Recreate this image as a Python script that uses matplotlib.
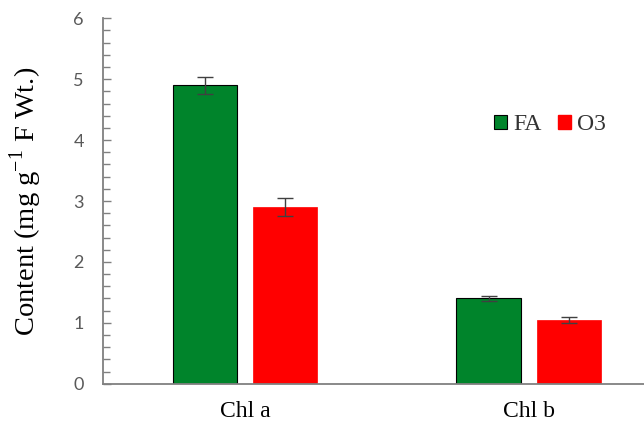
import matplotlib.pyplot as plt
import numpy as np
from matplotlib.patches import Patch

categories = ["Chl a", "Chl b"]
series_names = ["FA", "O3"]
fa_values = [4.90, 1.40]
o3_values = [2.90, 1.04]
fa_err = [0.14, 0.04]
o3_err = [0.145, 0.05]
y_ticks = [0, 1, 2, 3, 4, 5, 6]

green = "#00842B"
red = "#FF0000"

W, H = 644, 422
fig = plt.figure(figsize=(W / 100, H / 100), dpi=100)
left, right, top, bottom = 103.3, 670.3, 18.3, 383.7
ax = fig.add_axes([left / W, 1 - bottom / H, (right - left) / W, (bottom - top) / H])

x = np.arange(len(categories))
bw = 0.226
gap = 16 / 283.5
err_style = dict(ecolor="#404040", elinewidth=1.0, capsize=6, capthick=1.0)
ax.bar(x - (bw + gap) / 2, fa_values, bw, color=green, edgecolor="black", linewidth=0.8,
       yerr=fa_err, error_kw=err_style)
ax.bar(x + (bw + gap) / 2, o3_values, bw, color=red, edgecolor=red, linewidth=0.5,
       yerr=o3_err, error_kw=err_style)

ax.set_xlim(-0.5, 1.5)
ax.set_ylim(0, 6)
ax.set_yticks(y_ticks)
ax.set_yticks(np.arange(0, 6.01, 0.2), minor=True)
ax.set_xticks(x)
ax.set_xticklabels(categories, fontfamily="Liberation Serif", fontsize=17, color="black")
ax.tick_params(axis="x", length=0, pad=12.5)
ax.tick_params(axis="y", which="major", direction="in", length=6, width=1, color="#808080",
               labelsize=13, labelcolor="#595959", pad=14)
ax.tick_params(axis="y", which="minor", direction="in", length=5, width=1, color="#808080")
for lab in ax.get_yticklabels():
    lab.set_fontfamily("Lato")

for s in ["top", "right"]:
    ax.spines[s].set_visible(False)
for s in ["left", "bottom"]:
    ax.spines[s].set_color("#808080")
    ax.spines[s].set_linewidth(1.3)

ax.set_ylabel("Content (mg g$^{\\mathregular{-1}}$ F Wt.)", fontfamily="Liberation Serif",
              fontsize=20.5, color="black")
ax.yaxis.set_label_coords(-(left - 44) / (right - left), 0.5)

handles = [Patch(facecolor=green, edgecolor="black", linewidth=0.8),
           Patch(facecolor=red, edgecolor=red)]
leg = fig.legend(handles, series_names, loc="center", bbox_to_anchor=(550 / W, 1 - 125 / H),
                 ncol=2, frameon=False, handlelength=0.55, handleheight=0.55,
                 handletextpad=0.25, columnspacing=0.7,
                 prop={"family": "Liberation Serif", "size": 17})
for t in leg.get_texts():
    t.set_color("#333333")

fig.savefig("out.png", dpi=100)
